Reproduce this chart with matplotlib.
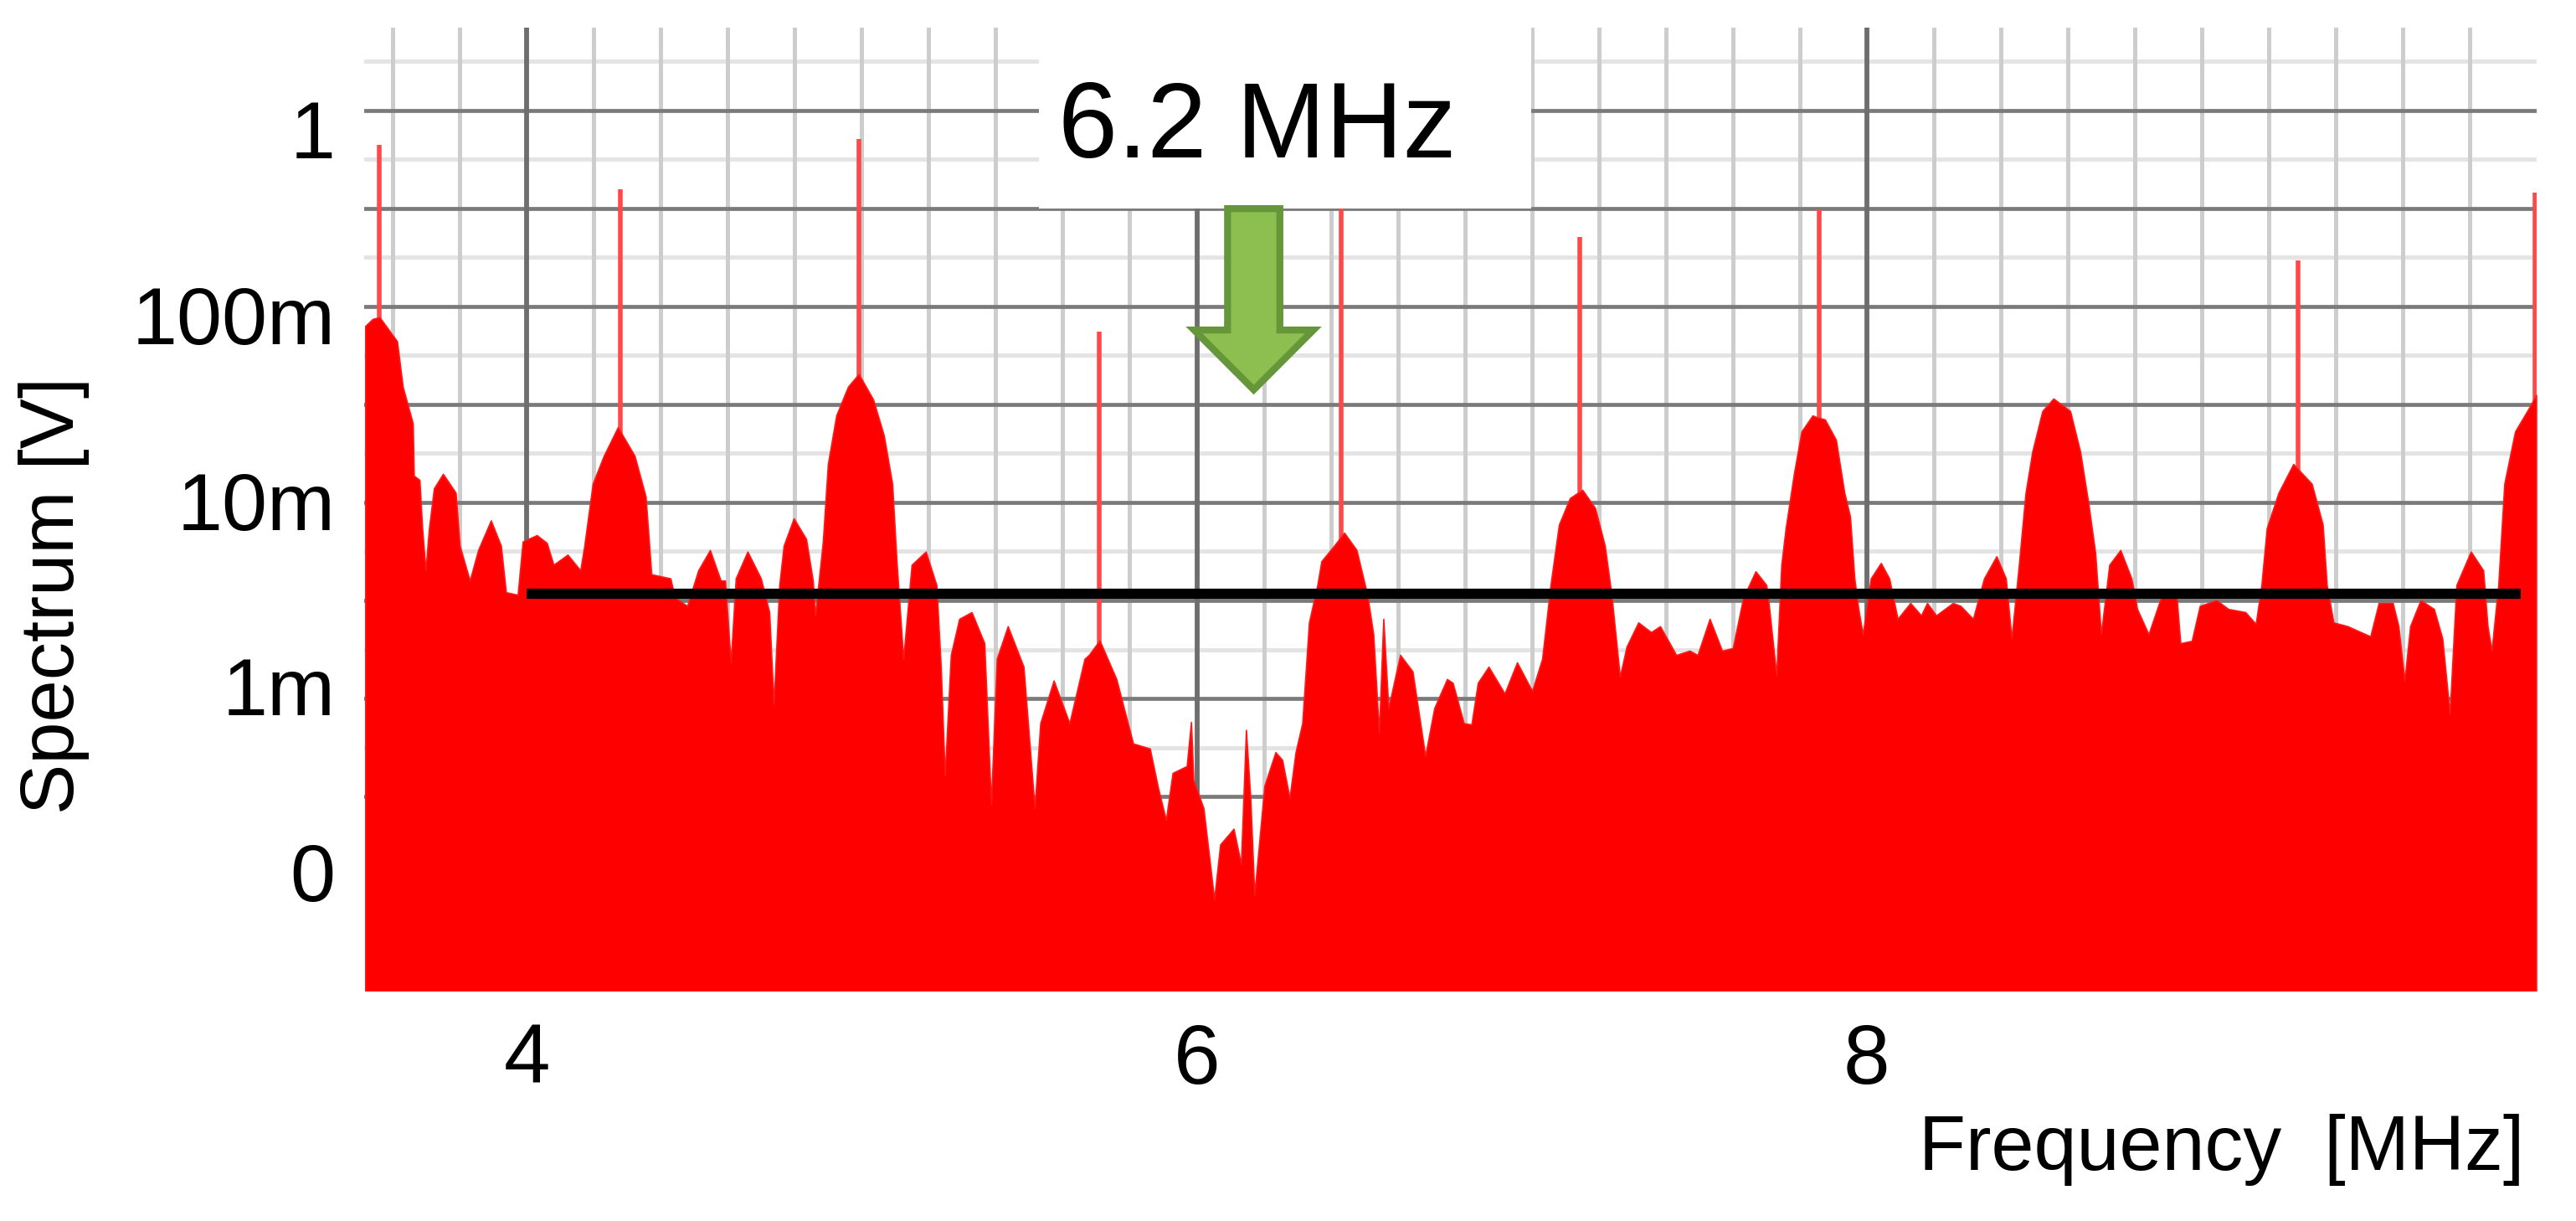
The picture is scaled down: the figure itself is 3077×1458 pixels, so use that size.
import matplotlib
matplotlib.use('Agg')
import matplotlib.pyplot as plt
from matplotlib.patches import Rectangle, Polygon
import matplotlib.transforms as mtransforms
import numpy as np

# spectrum envelope: frequency [MHz], level [mV]
freq_mhz = [
    3.518, 3.540, 3.561, 3.613, 3.630, 3.660, 3.663, 3.680, 3.688, 3.698,
    3.708, 3.723, 3.750, 3.788, 3.800, 3.830, 3.855, 3.893, 3.923, 3.938,
    3.973, 3.988, 4.030, 4.060, 4.080, 4.122, 4.160, 4.172, 4.197, 4.230,
    4.272, 4.322, 4.355, 4.372, 4.429, 4.442, 4.479, 4.512, 4.547, 4.579,
    4.592, 4.609, 4.624, 4.659, 4.699, 4.724, 4.737, 4.754, 4.767, 4.797,
    4.834, 4.854, 4.861, 4.884, 4.899, 4.924, 4.959, 4.991, 5.034, 5.066,
    5.091, 5.104, 5.124, 5.149, 5.191, 5.223, 5.236, 5.248, 5.266, 5.291,
    5.328, 5.366, 5.386, 5.403, 5.436, 5.483, 5.516, 5.533, 5.573, 5.620,
    5.665, 5.678, 5.710, 5.760, 5.810, 5.860, 5.885, 5.908, 5.928, 5.970,
    5.983, 5.990, 6.020, 6.035, 6.052, 6.070, 6.110, 6.132, 6.147, 6.160,
    6.172, 6.202, 6.235, 6.255, 6.277, 6.295, 6.315, 6.335, 6.360, 6.372,
    6.410, 6.440, 6.477, 6.509, 6.527, 6.544, 6.557, 6.572, 6.607, 6.644,
    6.682, 6.709, 6.747, 6.764, 6.797, 6.820, 6.839, 6.871, 6.919, 6.956,
    7.001, 7.031, 7.056, 7.081, 7.114, 7.151, 7.189, 7.218, 7.238, 7.263,
    7.283, 7.318, 7.356, 7.383, 7.431, 7.471, 7.495, 7.531, 7.568, 7.600,
    7.631, 7.668, 7.700, 7.708, 7.730, 7.745, 7.758, 7.783, 7.805, 7.838,
    7.850, 7.875, 7.908, 7.933, 7.950, 7.963, 7.975, 7.988, 8.012, 8.042,
    8.067, 8.092, 8.130, 8.162, 8.180, 8.207, 8.257, 8.280, 8.317, 8.350,
    8.387, 8.415, 8.432, 8.454, 8.474, 8.494, 8.524, 8.557, 8.607, 8.637,
    8.662, 8.682, 8.699, 8.724, 8.757, 8.790, 8.807, 8.841, 8.881, 8.925,
    8.936, 8.970, 8.994, 9.044, 9.079, 9.130, 9.161, 9.178, 9.194, 9.229,
    9.273, 9.328, 9.361, 9.373, 9.393, 9.435, 9.503, 9.528, 9.570, 9.587,
    9.605, 9.622, 9.653, 9.693, 9.718, 9.740, 9.760, 9.803, 9.840, 9.853,
    9.865, 9.885, 9.903, 9.935, 9.978, 9.998,
]
level_mv = [
    87, 95, 97, 72, 41, 26, 13.6, 12.9, 7.1, 4.2,
    7.0, 11.6, 13.9, 11, 5.7, 3.7, 5.4, 7.8, 5.7, 3.2,
    3.1, 6.0, 6.5, 5.9, 4.5, 5.1, 4.2, 5.7, 12.3, 17.4,
    24.8, 17.4, 10.5, 4.0, 3.8, 3.0, 2.7, 4.2, 5.4, 3.7,
    3.7, 1.34, 3.8, 5.3, 3.8, 2.5, 0.8, 3.5, 5.7, 8.0,
    6.2, 3.7, 2.4, 6.0, 15.7, 28.7, 41, 48, 35, 22.4,
    12.3, 4.7, 1.4, 4.5, 5.3, 3.5, 1.27, 0.33, 1.47, 2.3,
    2.5, 1.7, 0.23, 1.4, 2.1, 1.27, 0.22, 0.63, 1.07, 0.63,
    1.4, 1.47, 1.76, 1.09, 0.49, 0.46, 0.28, 0.19, 0.34, 0.37,
    0.64, 0.31, 0.22, 0.13, 0.071, 0.14, 0.17, 0.11, 0.58, 0.25,
    0.075, 0.29, 0.44, 0.40, 0.25, 0.44, 0.63, 2.2, 3.5, 4.7,
    5.7, 6.7, 5.4, 3.1, 1.9, 0.56, 2.3, 0.76, 1.47, 1.2,
    0.42, 0.76, 1.09, 1.04, 0.63, 0.62, 1.04, 1.27, 0.91, 1.34,
    0.94, 1.4, 3.5, 7.4, 10.3, 11.4, 9.1, 5.7, 3.1, 1.12,
    1.63, 2.2, 1.95, 2.1, 1.47, 1.55, 1.47, 2.3, 1.55, 1.6,
    2.98, 4.15, 3.5, 2.7, 1.15, 4.5, 7.1, 14.1, 23.5, 28.7,
    28.1, 27.3, 21.2, 11, 8.2, 3.8, 2.6, 1.9, 3.8, 4.6,
    3.8, 2.3, 2.8, 2.4, 2.8, 2.4, 2.8, 2.7, 2.3, 3.8,
    5.0, 3.8, 1.8, 4.5, 11, 18.3, 30.3, 35.4, 30.3, 18.3,
    9.5, 5.2, 1.9, 4.5, 5.4, 3.8, 2.6, 1.9, 3.1, 3.0,
    1.7, 1.75, 2.7, 2.9, 2.6, 2.5, 2.16, 3.5, 7.1, 11,
    15.7, 12.3, 7.4, 3.5, 2.2, 2.1, 1.85, 2.8, 2.8, 2.1,
    1.07, 2.1, 2.9, 2.6, 1.8, 0.71, 3.5, 5.3, 4.2, 2.1,
    1.55, 3.5, 12.3, 23.5, 31.8, 37,
]

# narrow carrier lines: frequency [MHz], top [V]
spike_mhz = [3.561, 4.280, 4.992, 5.708, 6.430, 7.143, 7.858, 9.286, 9.995]
spike_top_v = [0.82, 0.475, 0.89, 0.081, 0.6, 0.263, 0.37, 0.196, 0.456]

# threshold line
threshold_v = 3.15e-3
threshold_range = [4.0, 9.953]

marker_mhz = 6.17
marker_text = '6.2 MHz'

y_tick_values = [1, 0.1, 0.01, 0.001, 0.0001]
y_tick_labels = ['1', '100m', '10m', '1m', '0']
x_tick_values = [4, 6, 8]


def draw_grid(ax):
    """Scope-like grid: grey lines every 0.2 MHz, dark/light rows in y."""
    for k in range(16):
        dec = 3.367 - 0.2642 * k - 3.0
        if k % 2 == 1:
            ax.axhline(10 ** dec, color='#7a7a7a', lw=3.4, zorder=1)
        else:
            ax.axhline(10 ** dec, color='#e4e4e4', lw=3.6, zorder=0.9)
    for f in np.arange(3.6, 9.9, 0.2):
        if min(abs(f - m) for m in x_tick_values) < 1e-6:
            ax.axvline(f, color='#6e6e6e', lw=4.2, zorder=1.1)
        else:
            ax.axvline(f, color='#cdcdcd', lw=3.6, zorder=0.95)


def spectrum_plot():
    plt.rcParams['font.family'] = ['Liberation Sans', 'DejaVu Sans']

    fig = plt.figure(figsize=(30.77, 14.58), dpi=100)
    ax = fig.add_axes([0.1414, 0.1886, 0.8434, 0.7888])

    y_bottom, y_top = 2.28e-5, 3.53
    ax.set_yscale('log')
    ax.set_xlim(3.515, 10.0)
    ax.set_ylim(y_bottom, y_top)

    draw_grid(ax)

    level_v = np.array(level_mv) / 1000.0
    ax.vlines(spike_mhz, y_bottom, spike_top_v, color='#ff4848', lw=4.0, zorder=2)
    ax.fill_between(freq_mhz, level_v, y_bottom, color='#ff0000', lw=1.2,
                    edgecolor='#ff1a1a', zorder=3)

    ax.plot(threshold_range, [threshold_v, threshold_v], color='black', lw=8.8,
            solid_capstyle='butt', zorder=4)

    # white label box with the green arrow
    trans = mtransforms.blended_transform_factory(ax.transData, ax.transAxes)
    ax.add_patch(Rectangle((5.528, 0.812), 1.471, 0.2, transform=trans,
                           facecolor='white', edgecolor='none', zorder=5, clip_on=False))
    ax.text(6.18, 0.865, marker_text, transform=trans, fontsize=92,
            ha='center', va='baseline', zorder=6)

    sw, hw = 0.078, 0.178
    arrow = [(marker_mhz - sw, 0.812), (marker_mhz + sw, 0.812),
             (marker_mhz + sw, 0.686), (marker_mhz + hw, 0.686),
             (marker_mhz, 0.624), (marker_mhz - hw, 0.686),
             (marker_mhz - sw, 0.686)]
    ax.add_patch(Polygon(arrow, closed=True, transform=trans, facecolor='#8dbf50',
                         edgecolor='#66963a', lw=6, joinstyle='miter', zorder=6))

    # axes styling
    for s in ax.spines.values():
        s.set_visible(False)
    ax.set_yticks(y_tick_values)
    ax.set_yticklabels(y_tick_labels)
    ax.yaxis.set_minor_locator(matplotlib.ticker.NullLocator())
    ax.set_xticks(x_tick_values)
    ax.set_xticklabels([str(v) for v in x_tick_values])
    ax.tick_params(axis='y', length=0, pad=25, labelsize=70)
    ax.tick_params(axis='x', length=0, pad=27, labelsize=72)

    fig.text(0.980, 0.058, 'Frequency  [MHz]', fontsize=66, ha='right', va='center')
    fig.text(0.0211, 0.512, 'Spectrum [V]', fontsize=65, rotation=90,
             ha='center', va='center')

    fig.savefig('out.png', dpi=100)
    plt.close(fig)


if __name__ == "__main__":
    spectrum_plot()
